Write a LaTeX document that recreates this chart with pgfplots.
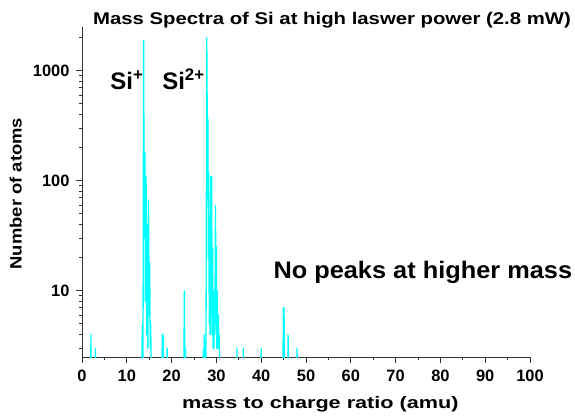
\documentclass[border=0pt]{standalone}
\usepackage{pgfplots}
\pgfplotsset{compat=1.18}
\usepackage{fontspec}
\setmainfont{Liberation Sans}
\newfontfamily\titlefont{Liberation Sans}[FakeStretch=1.2]
\newfontfamily\xlabfont{Liberation Sans}[FakeStretch=1.3]
\newfontfamily\ylabfont{Liberation Sans}[FakeStretch=1.12]
\newfontfamily\notefont{Liberation Sans}[FakeStretch=1.06]
\definecolor{speccyan}{HTML}{00FFFF}
\definecolor{axisgray}{HTML}{333333}

\begin{document}
\begin{tikzpicture}[x=1bp,y=1bp]
\path[use as bounding box] (0,0) rectangle (575,415);
\begin{axis}[
  at={(82bp,58bp)}, anchor=south west,
  scale only axis, width=448bp, height=330bp,
  ymode=log,
  xmin=0, xmax=100, ymin=2.5, ymax=2500,
  axis x line*=bottom, axis y line*=left,
  axis line style={axisgray, line width=1pt},
  every tick/.style={axisgray, line width=0.8pt},
  xtick={0,10,...,100}, minor x tick num=1,
  ytick={10,100,1000}, yticklabels={10,100,1000},
  minor ytick={3,4,5,6,7,8,9,20,30,40,50,60,70,80,90,200,300,400,500,600,700,800,900,2000},
  tick align=outside,
  major tick length=6bp, minor tick length=3.5bp,
  /pgf/number format/assume math mode=true,
  tick label style={font=\bfseries\fontsize{16.5}{18}\selectfont},
  xticklabel style={yshift=-4bp},
  yticklabel style={xshift=-3bp},
  xlabel={mass to charge ratio (amu)},
  ylabel={Number of atoms},
  xlabel style={font=\xlabfont\bfseries\fontsize{16.7}{19}\selectfont,
    at={(axis description cs:0.532,0)}, anchor=base, yshift=-51bp},
  ylabel style={font=\ylabfont\bfseries\fontsize{16.5}{19}\selectfont,
    at={(axis description cs:-0.148,0.495)}, anchor=center},
  clip=true,
]
\addplot[speccyan, line width=1.3pt, line join=round, sharp plot, no markers] coordinates {
  (0,1) (1.9,1) (2.0,4) (2.1,1)
  (2.9,1) (3.0,3) (3.1,1)
  (13.3,1) (13.45,5) (13.55,1)
  (13.6,1) (13.75,1900) (13.9,30) (14.05,180) (14.15,8) (14.3,110) (14.45,4)
  (14.55,40) (14.7,3) (14.85,67) (15.0,6) (15.1,18) (15.25,3) (15.35,5) (15.45,1)
  (17.85,1) (17.9,4) (18.1,4) (18.15,1)
  (18.9,1) (19.0,3) (19.1,1)
  (22.7,1) (22.85,10) (23.0,1) (23.1,3) (23.2,1)
  (27.0,1) (27.1,3) (27.2,1) (27.3,4) (27.4,1)
  (27.65,1) (27.85,2000) (27.95,400) (28.1,350) (28.2,20) (28.3,120) (28.4,5)
  (28.5,30) (28.6,4) (28.75,110) (28.85,6) (28.95,110) (29.05,4) (29.15,25)
  (29.25,3) (29.35,10) (29.45,3) (29.55,8) (29.65,4) (29.8,60) (29.9,5)
  (30.0,25) (30.1,3) (30.2,10) (30.3,3) (30.45,6) (30.55,3) (30.65,4) (30.75,1)
  (34.5,1) (34.6,3) (34.7,1)
  (35.9,1) (36.0,3) (36.1,1)
  (39.9,1) (40.0,3) (40.1,1)
  (44.8,1) (44.95,7) (45.1,7) (45.2,1)
  (45.9,1) (46.0,4) (46.1,1)
  (47.9,1) (48.0,3) (48.1,1)
  (100,1)
};
\node[anchor=base west, font=\bfseries\fontsize{24}{26}\selectfont, inner sep=0pt]
  at (axis cs:6.3,676) {Si\textsuperscript{+}};
\node[anchor=base west, font=\bfseries\fontsize{24}{26}\selectfont, inner sep=0pt]
  at (axis cs:17.9,676) {Si\textsuperscript{2+}};
\end{axis}
\node[anchor=base west, font=\notefont\bfseries\fontsize{24}{26}\selectfont, inner sep=0pt]
  at (273.3,136.7) {No peaks at higher mass};
\node[anchor=base, font=\titlefont\bfseries\fontsize{17}{19}\selectfont, inner sep=0pt]
  at (332,390) {Mass Spectra of Si at high laswer power (2.8 mW)};
\end{tikzpicture}
\end{document}
